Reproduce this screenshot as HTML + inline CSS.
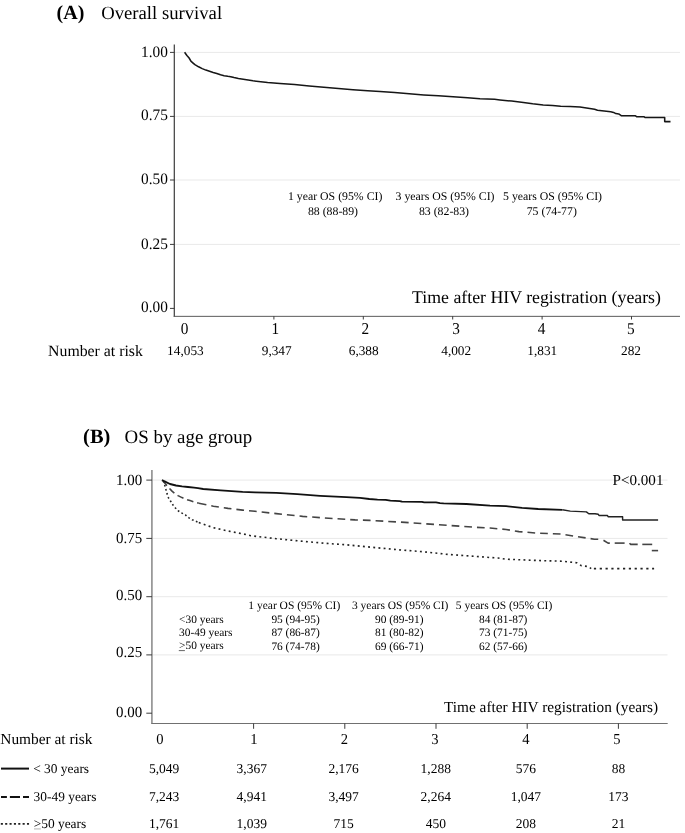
<!DOCTYPE html>
<html><head><meta charset="utf-8"><style>
html,body{margin:0;padding:0;background:#fff;}
svg{display:block;font-family:"Liberation Serif",serif;text-rendering:geometricPrecision;will-change:transform;}
</style></head><body>
<svg width="685" height="833" viewBox="0 0 685 833">
<rect width="685" height="833" fill="#fff"/>
<text x="56.60" y="18.90" font-size="20" font-weight="bold" fill="#000">(A)</text>
<text x="101.20" y="18.90" font-size="18.7" fill="#000">Overall survival</text>
<line x1="175" y1="52.4" x2="680" y2="52.4" stroke="#e9e9e9" stroke-width="1"/>
<line x1="170" y1="52.4" x2="174.5" y2="52.4" stroke="#3c3c3c" stroke-width="1"/>
<text transform="translate(141.05,57.33) scale(0.965,1)" font-size="15.9" fill="#000">1.00</text>
<line x1="175" y1="116.4" x2="680" y2="116.4" stroke="#e9e9e9" stroke-width="1"/>
<line x1="170" y1="116.4" x2="174.5" y2="116.4" stroke="#3c3c3c" stroke-width="1"/>
<text transform="translate(141.05,119.88) scale(0.965,1)" font-size="15.9" fill="#000">0.75</text>
<line x1="175" y1="180.0" x2="680" y2="180.0" stroke="#e9e9e9" stroke-width="1"/>
<line x1="170" y1="180.0" x2="174.5" y2="180.0" stroke="#3c3c3c" stroke-width="1"/>
<text transform="translate(141.05,184.18) scale(0.965,1)" font-size="15.9" fill="#000">0.50</text>
<line x1="175" y1="244.4" x2="680" y2="244.4" stroke="#e9e9e9" stroke-width="1"/>
<line x1="170" y1="244.4" x2="174.5" y2="244.4" stroke="#3c3c3c" stroke-width="1"/>
<text transform="translate(141.05,248.88) scale(0.965,1)" font-size="15.9" fill="#000">0.25</text>
<line x1="170" y1="308.4" x2="174.5" y2="308.4" stroke="#3c3c3c" stroke-width="1"/>
<text transform="translate(141.05,311.73) scale(0.965,1)" font-size="15.9" fill="#000">0.00</text>
<line x1="174.3" y1="44.5" x2="174.3" y2="316.8" stroke="#3c3c3c" stroke-width="1.2"/>
<line x1="173.7" y1="316.35" x2="680" y2="316.35" stroke="#5a5a5a" stroke-width="1.0"/>
<line x1="273.9" y1="316.2" x2="273.9" y2="319.5" stroke="#3c3c3c" stroke-width="1"/>
<line x1="363.3" y1="316.2" x2="363.3" y2="319.5" stroke="#3c3c3c" stroke-width="1"/>
<line x1="452.70000000000005" y1="316.2" x2="452.70000000000005" y2="319.5" stroke="#3c3c3c" stroke-width="1"/>
<line x1="542.1" y1="316.2" x2="542.1" y2="319.5" stroke="#3c3c3c" stroke-width="1"/>
<line x1="631.5" y1="316.2" x2="631.5" y2="319.5" stroke="#3c3c3c" stroke-width="1"/>
<text transform="translate(180.78,333.90) scale(0.92,1)" font-size="16.6" fill="#000">0</text>
<text transform="translate(271.48,333.90) scale(0.92,1)" font-size="16.6" fill="#000">1</text>
<text transform="translate(361.48,333.90) scale(0.92,1)" font-size="16.6" fill="#000">2</text>
<text transform="translate(452.28,333.90) scale(0.92,1)" font-size="16.6" fill="#000">3</text>
<text transform="translate(537.68,333.90) scale(0.92,1)" font-size="16.6" fill="#000">4</text>
<text transform="translate(626.98,333.90) scale(0.92,1)" font-size="16.6" fill="#000">5</text>
<polyline points="184.6,52.3 186.9,55.5 189.1,58 190.9,61.1 192.8,62.8 194.9,64.6 198.6,66.8 202.2,68.6 205.9,70.1 209.5,71.3 213.2,72.5 216.8,73.5 220.5,74.8 224.1,75.7 227.8,76.3 230.7,76.7 234,77.6 238.4,78.6 253,80.8 267.6,82.5 280,83.5 294.6,84.6 309.2,86.0 323.8,87.2 338.4,88.5 353,89.7 367.6,90.7 380,91.5 394.6,92.4 409.2,93.8 423.8,94.9 438.4,95.7 453,96.8 467.6,97.8 480,98.7 494.6,99.3 500,99.9 511.7,101.1 523.4,102.6 532.7,103.8 543.2,104.9 552.6,105.5 560.7,106.3 570.1,106.5 580,107 594.6,109.2 597.5,110.2 610.7,111.7 613.6,112.4 615.8,113.6 618.7,113.9 621.6,115.8 635.5,115.8 636.9,116.8 644.2,116.8 645,117.5 664.7,117.5 664.7,121.6 670.5,121.6" fill="none" stroke="#161616" stroke-width="1.55" stroke-linejoin="round"/>
<text x="288.01" y="199.90" font-size="11.8" fill="#000">1 year OS (95% CI)</text>
<text x="307.93" y="214.60" font-size="11.8" fill="#000">88 (88-89)</text>
<text x="395.62" y="199.90" font-size="11.8" fill="#000">3 years OS (95% CI)</text>
<text x="418.93" y="214.60" font-size="11.8" fill="#000">83 (82-83)</text>
<text x="503.12" y="199.90" font-size="11.8" fill="#000">5 years OS (95% CI)</text>
<text x="526.73" y="214.60" font-size="11.8" fill="#000">75 (74-77)</text>
<text x="412.07" y="303.00" font-size="17.8" fill="#000">Time after HIV registration (years)</text>
<text x="48.10" y="356.40" font-size="15.8" fill="#000">Number at risk</text>
<text x="167.11" y="355.00" font-size="13.3" fill="#000">14,053</text>
<text x="261.74" y="355.00" font-size="13.3" fill="#000">9,347</text>
<text x="348.74" y="355.00" font-size="13.3" fill="#000">6,388</text>
<text x="441.24" y="355.00" font-size="13.3" fill="#000">4,002</text>
<text x="527.34" y="355.00" font-size="13.3" fill="#000">1,831</text>
<text x="621.02" y="355.00" font-size="13.3" fill="#000">282</text>
<text x="83.10" y="443.30" font-size="20.4" font-weight="bold" fill="#000">(B)</text>
<text x="124.60" y="443.30" font-size="18.9" fill="#000">OS by age group</text>
<line x1="152.5" y1="480.1" x2="667.5" y2="480.1" stroke="#e9e9e9" stroke-width="1"/>
<line x1="146.3" y1="480.1" x2="152" y2="480.1" stroke="#3c3c3c" stroke-width="1"/>
<text transform="translate(116.06,484.81) scale(0.97,1)" font-size="15.4" fill="#000">1.00</text>
<line x1="152.5" y1="538.4" x2="667.5" y2="538.4" stroke="#e9e9e9" stroke-width="1"/>
<line x1="146.3" y1="538.4" x2="152" y2="538.4" stroke="#3c3c3c" stroke-width="1"/>
<text transform="translate(116.06,542.66) scale(0.97,1)" font-size="15.4" fill="#000">0.75</text>
<line x1="152.5" y1="596.7" x2="667.5" y2="596.7" stroke="#e9e9e9" stroke-width="1"/>
<line x1="146.3" y1="596.7" x2="152" y2="596.7" stroke="#3c3c3c" stroke-width="1"/>
<text transform="translate(116.06,600.46) scale(0.97,1)" font-size="15.4" fill="#000">0.50</text>
<line x1="152.5" y1="654.9" x2="667.5" y2="654.9" stroke="#e9e9e9" stroke-width="1"/>
<line x1="146.3" y1="654.9" x2="152" y2="654.9" stroke="#3c3c3c" stroke-width="1"/>
<text transform="translate(116.06,657.31) scale(0.97,1)" font-size="15.4" fill="#000">0.25</text>
<line x1="146.3" y1="713.2" x2="152" y2="713.2" stroke="#3c3c3c" stroke-width="1"/>
<text transform="translate(116.06,717.21) scale(0.97,1)" font-size="15.4" fill="#000">0.00</text>
<line x1="151.95" y1="470" x2="151.95" y2="724" stroke="#3c3c3c" stroke-width="0.93"/>
<line x1="151.5" y1="723.5" x2="667.7" y2="723.5" stroke="#707070" stroke-width="1.0"/>
<line x1="253.60000000000002" y1="723.4" x2="253.60000000000002" y2="728.8" stroke="#3c3c3c" stroke-width="1"/>
<line x1="344.8" y1="723.4" x2="344.8" y2="728.8" stroke="#3c3c3c" stroke-width="1"/>
<line x1="436.0" y1="723.4" x2="436.0" y2="728.8" stroke="#3c3c3c" stroke-width="1"/>
<line x1="527.2" y1="723.4" x2="527.2" y2="728.8" stroke="#3c3c3c" stroke-width="1"/>
<line x1="618.4" y1="723.4" x2="618.4" y2="728.8" stroke="#3c3c3c" stroke-width="1"/>
<text transform="translate(156.25,743.80) scale(0.96,1)" font-size="15.2" fill="#000">0</text>
<text transform="translate(250.15,743.80) scale(0.96,1)" font-size="15.2" fill="#000">1</text>
<text transform="translate(340.85,743.80) scale(0.96,1)" font-size="15.2" fill="#000">2</text>
<text transform="translate(431.25,743.80) scale(0.96,1)" font-size="15.2" fill="#000">3</text>
<text transform="translate(522.35,743.80) scale(0.96,1)" font-size="15.2" fill="#000">4</text>
<text transform="translate(613.25,743.80) scale(0.96,1)" font-size="15.2" fill="#000">5</text>
<polyline points="163.5,481.5 164.6,484.6 165.8,489.1 167,493.6 168.5,497.8 170.5,501 173,505 175.4,508 178.4,511 182,513.1 185.3,514.9 188.6,517.6 192.2,519.7 195.8,521.2 198.8,522.5" fill="none" stroke="#222" stroke-width="1.6" stroke-linejoin="round" stroke-dasharray="1.7 2.5" stroke-dashoffset="0.6" stroke-linejoin="miter"/>
<polyline points="198.8,522.5 213.4,527.7 228,531 242.6,533.8 250.7,535.7 276.3,538.7 297.4,540.8 302.6,541.3 328.8,543.6 346.4,544.8 370,547.1 396.3,549.6 422.6,551.7 448.8,554.5 466.4,555.7 490,557.5 498,558 506.1,559.2 538.2,560.5 562.3,561.2 576.7,562.8 581.5,565.7 588,566.5 591.2,568.6" fill="none" stroke="#222" stroke-width="1.6" stroke-linejoin="round" stroke-dasharray="1.9 3.3" stroke-linejoin="miter"/>
<polyline points="591.2,568.6 654.1,568.6" fill="none" stroke="#222" stroke-width="1.7" stroke-linejoin="round" stroke-dasharray="2.2 3.62" stroke-dashoffset="-2.7"/>
<polyline points="163,481 166,484.5 169,488 172,491.1 175,493.6 178,495.6 182,497.6 186,499.3 190,500.6 194,501.9 198.8,503.3" fill="none" stroke="#444" stroke-width="1.6" stroke-linejoin="round" stroke-dasharray="6.6 3.9" stroke-dashoffset="0.5"/>
<polyline points="198.8,503.3 213.4,506.2 228,508.4 242.6,510.1 255,511.3 276.3,513.6 302.6,516.4 328.8,518.2 355.1,519.9 370,520.4 405,522.4 422.6,523.6 448.8,525.4 475.1,527.3 490,528 506.1,529.5 518.9,531.6 538.2,533.2 560.7,534 573.5,536 586.4,538 594.4,539.2 600.3,539.2" fill="none" stroke="#444" stroke-width="1.6" stroke-linejoin="round" stroke-dasharray="7.7 5.0" stroke-dashoffset="0"/>
<polyline points="603.5,540.3 604.2,540.7 608.1,543.1 609.8,543.1" fill="none" stroke="#444" stroke-width="1.6" stroke-linejoin="round" stroke-linecap="butt"/>
<polyline points="614.7,543.1 624.6,543.1" fill="none" stroke="#444" stroke-width="1.6" stroke-linejoin="round" stroke-linecap="butt"/>
<polyline points="629.6,543.1 630.5,544.4 637.7,544.4" fill="none" stroke="#444" stroke-width="1.6" stroke-linejoin="round" stroke-linecap="butt"/>
<polyline points="642.3,544.4 652.2,544.4" fill="none" stroke="#444" stroke-width="1.6" stroke-linejoin="round" stroke-linecap="butt"/>
<polyline points="651.8,550.6 658.1,550.6" fill="none" stroke="#444" stroke-width="1.6" stroke-linejoin="round" stroke-linecap="butt"/>
<polyline points="161.9,480.1 164.6,481.3 170,484 176,485.5 182,486.4 188,487 194,487.7 198,488.2 203.2,489 220.7,490.4 242.6,491.9 255,492.4 276.3,492.9 297.3,494.2 320.1,495.8 346.4,497.2 360,497.9 369.3,499 377.5,499.6 385.7,499.9 390.4,500.7 399.7,501.1 402,501.7 421.9,501.9 424.2,502.3 436,502.4 440,503.1 443.6,503.3 466.4,504 490,505.6 506.1,506.2 522.1,507.8 538.2,509 562.3,509.8" fill="none" stroke="#111" stroke-width="1.85" stroke-linejoin="round"/>
<polyline points="562.3,509.8 570.3,511.1 586.4,511.9 588.8,513.8 595,513.8 598.3,514.3 599,515.5 607.5,515.5 608.1,516.8 622.6,516.8 622.6,520 658.1,520" fill="none" stroke="#222" stroke-width="1.45" stroke-linejoin="round"/>
<text x="612.60" y="484.70" font-size="15.1" fill="#000">P&lt;0.001</text>
<text x="444.06" y="712.00" font-size="15.3" fill="#000">Time after HIV registration (years)</text>
<text x="248.31" y="608.80" font-size="11.5" fill="#000">1 year OS (95% CI)</text>
<text x="351.97" y="608.80" font-size="11.5" fill="#000">3 years OS (95% CI)</text>
<text x="455.77" y="608.80" font-size="11.5" fill="#000">5 years OS (95% CI)</text>
<text x="179.10" y="622.70" font-size="11.4" fill="#000">&lt;30 years</text>
<text x="271.38" y="622.70" font-size="11.4" fill="#000">95 (94-95)</text>
<text x="375.08" y="622.70" font-size="11.4" fill="#000">90 (89-91)</text>
<text x="478.98" y="622.70" font-size="11.4" fill="#000">84 (81-87)</text>
<text x="179.10" y="636.40" font-size="11.4" fill="#000">30-49 years</text>
<text x="271.38" y="636.40" font-size="11.4" fill="#000">87 (86-87)</text>
<text x="375.08" y="636.40" font-size="11.4" fill="#000">81 (80-82)</text>
<text x="478.98" y="636.40" font-size="11.4" fill="#000">73 (71-75)</text>
<text x="179.10" y="649.40" font-size="11.4" fill="#000">&gt;50 years</text>
<line x1="178.8" y1="650.6" x2="184.9" y2="650.6" stroke="#666" stroke-width="1.0"/>
<text x="271.38" y="650.00" font-size="11.4" fill="#000">76 (74-78)</text>
<text x="375.08" y="650.00" font-size="11.4" fill="#000">69 (66-71)</text>
<text x="478.98" y="650.00" font-size="11.4" fill="#000">62 (57-66)</text>
<text x="0.30" y="743.80" font-size="15.37" fill="#000">Number at risk</text>
<line x1="1.0" y1="768.6" x2="29.0" y2="768.6" stroke="#111" stroke-width="2"/>
<line x1="1.0" y1="797.0" x2="29.0" y2="797.0" stroke="#111" stroke-width="2" stroke-dasharray="10.1 3.0" stroke-dashoffset="4.2"/>
<line x1="0.8" y1="823.9" x2="29.1" y2="823.9" stroke="#222" stroke-width="1.9" stroke-dasharray="2.1 2.26"/>
<text x="33.20" y="772.50" font-size="13.4" fill="#000">&lt; 30 years</text>
<text x="33.60" y="800.60" font-size="13.4" fill="#000">30-49 years</text>
<text x="33.70" y="827.60" font-size="13.4" fill="#000">&gt;50 years</text>
<line x1="34.0" y1="828.9" x2="40.8" y2="828.9" stroke="#c4c4c4" stroke-width="1.3"/>
<text x="148.91" y="772.80" font-size="13.5" fill="#000">5,049</text>
<text x="236.61" y="772.80" font-size="13.5" fill="#000">3,367</text>
<text x="328.41" y="772.80" font-size="13.5" fill="#000">2,176</text>
<text x="420.61" y="772.80" font-size="13.5" fill="#000">1,288</text>
<text x="515.77" y="772.80" font-size="13.5" fill="#000">576</text>
<text x="611.65" y="772.80" font-size="13.5" fill="#000">88</text>
<text x="148.91" y="800.80" font-size="13.5" fill="#000">7,243</text>
<text x="236.61" y="800.80" font-size="13.5" fill="#000">4,941</text>
<text x="328.41" y="800.80" font-size="13.5" fill="#000">3,497</text>
<text x="420.61" y="800.80" font-size="13.5" fill="#000">2,264</text>
<text x="510.71" y="800.80" font-size="13.5" fill="#000">1,047</text>
<text x="608.27" y="800.80" font-size="13.5" fill="#000">173</text>
<text x="148.91" y="828.00" font-size="13.5" fill="#000">1,761</text>
<text x="236.61" y="828.00" font-size="13.5" fill="#000">1,039</text>
<text x="333.48" y="828.00" font-size="13.5" fill="#000">715</text>
<text x="425.68" y="828.00" font-size="13.5" fill="#000">450</text>
<text x="515.77" y="828.00" font-size="13.5" fill="#000">208</text>
<text x="611.65" y="828.00" font-size="13.5" fill="#000">21</text>
</svg></body></html>
